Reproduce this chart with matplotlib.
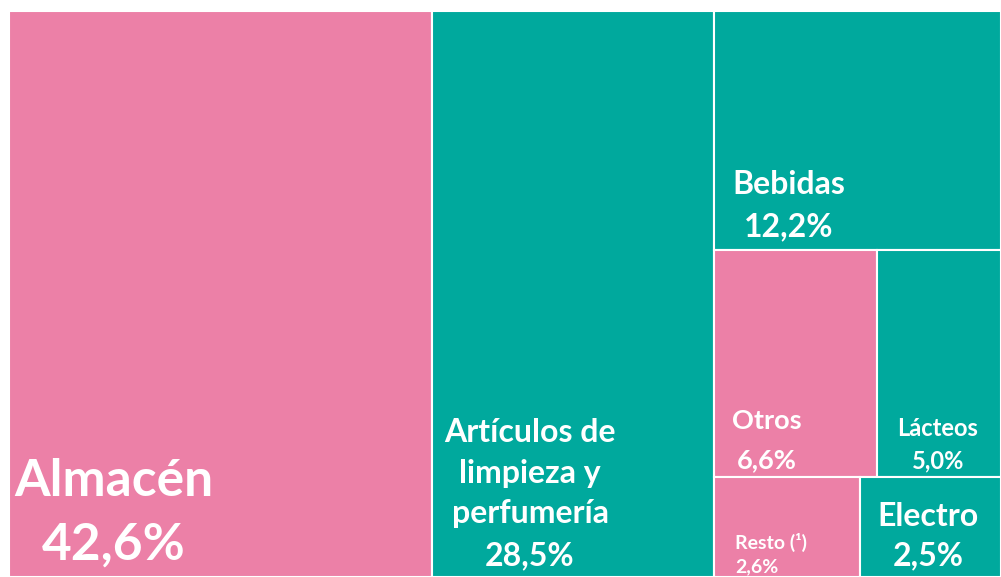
import matplotlib
matplotlib.use("Agg")
import matplotlib.pyplot as plt
from matplotlib.patches import Rectangle

# datos del treemap (porcentaje de ventas por rubro)
labels = ["Almacén", "Artículos de\nlimpieza y\nperfumería", "Bebidas", "Otros", "Lácteos", "Resto (¹)", "Electro"]
values = [42.6, 28.5, 12.2, 6.6, 5.0, 2.6, 2.5]
pcts = ["42,6%", "28,5%", "12,2%", "6,6%", "5,0%", "2,6%", "2,5%"]
colors = ["#EC80A7", "#00A99D", "#00A99D", "#EC80A7", "#00A99D", "#EC80A7", "#00A99D"]

# area del grafico en pixeles
X0, Y0, W, H = 9, 11, 992, 566


def layout(vals):
    # columnas: Almacen | Articulos | resto agrupado (Bebidas / [Otros Lacteos] / [Resto Electro])
    total = sum(vals)
    rects = []
    x = X0
    for v in vals[:2]:
        w = W * v / total
        rects.append((x, Y0, w, H))
        x += w
    wr = X0 + W - x
    rest = sum(vals[2:])
    y = Y0
    hb = H * vals[2] / rest
    rects.append((x, y, wr, hb))
    y += hb
    for pair in [(vals[3], vals[4]), (vals[5], vals[6])]:
        h = H * sum(pair) / rest
        xx = x
        for v in pair:
            w = wr * v / sum(pair)
            rects.append((xx, y, w, h))
            xx += w
        y += h
    return rects


fig = plt.figure(figsize=(10.01, 5.77), dpi=100)
ax = fig.add_axes([0, 0, 1, 1])
ax.set_xlim(0, 1001)
ax.set_ylim(577, 0)
ax.axis("off")

for (x, y, w, h), c in zip(layout(values), colors):
    ax.add_patch(Rectangle((x, y), w, h, facecolor=c, edgecolor="white", linewidth=1.5))

fam = ["Lato", "DejaVu Sans"]
txt = dict(color="white", fontweight="bold", family=fam)

# posiciones de etiquetas (pixeles)
ax.text(114, 482, labels[0], fontsize=37, ha="center", va="center", **txt)
ax.text(114, 545, pcts[0], fontsize=37, ha="center", va="center", **txt)

for yy, line in zip([432, 473, 514], labels[1].split("\n")):
    ax.text(530, yy, line, fontsize=23, ha="center", va="center", **txt)
ax.text(530, 556, pcts[1], fontsize=23, ha="center", va="center", **txt)

ax.text(789, 185, labels[2], fontsize=23, ha="center", va="center", **txt)
ax.text(789, 227, pcts[2], fontsize=23, ha="center", va="center", **txt)

ax.text(767, 421, labels[3], fontsize=19.5, ha="center", va="center", **txt)
ax.text(767, 460, pcts[3], fontsize=19.5, ha="center", va="center", **txt)

ax.text(938, 428, labels[4], fontsize=17, ha="center", va="center", **txt)
ax.text(938, 461, pcts[4], fontsize=17, ha="center", va="center", **txt)

ax.text(735, 542, labels[5], fontsize=14, ha="left", va="center", **txt)
ax.text(735, 567, pcts[5], fontsize=14, ha="left", va="center", **txt)

ax.text(928, 516, labels[6], fontsize=23, ha="center", va="center", **txt)
ax.text(928, 556, pcts[6], fontsize=23, ha="center", va="center", **txt)

fig.savefig("out.png", dpi=100)
